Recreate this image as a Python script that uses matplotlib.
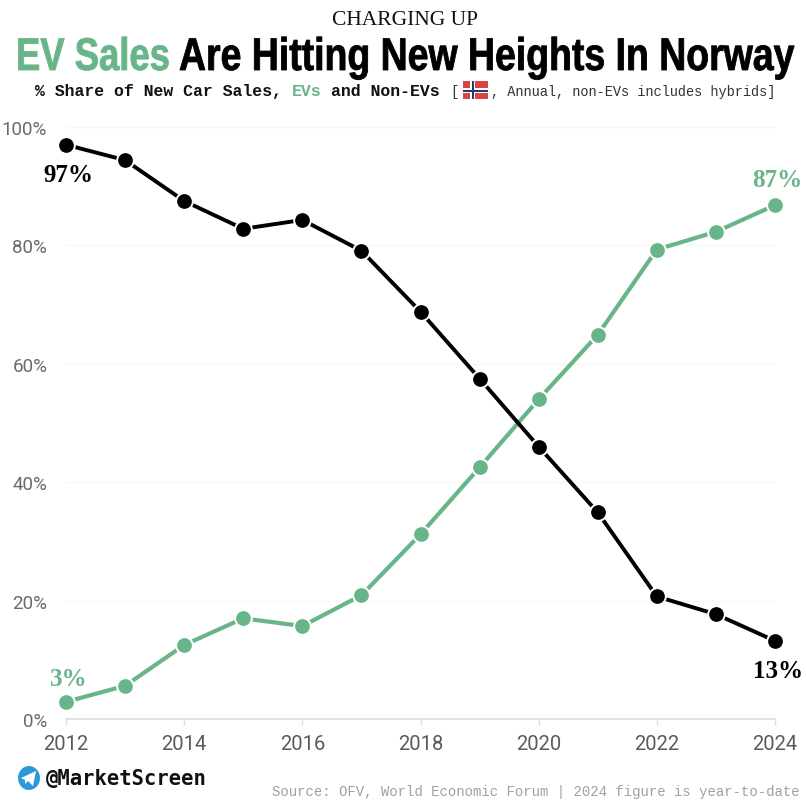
import matplotlib
matplotlib.use('Agg')
import matplotlib.pyplot as plt
import matplotlib.patches as mpatches
from matplotlib.patheffects import AbstractPathEffect
from matplotlib.text import Text
from matplotlib.transforms import Affine2D, Bbox

years = [2012, 2013, 2014, 2015, 2016, 2017, 2018, 2019, 2020, 2021, 2022, 2023, 2024]
non_evs = [97.0, 94.4, 87.5, 82.8, 84.3, 79.1, 68.8, 57.5, 46.0, 34.9, 20.7, 17.7, 13.2]
evs = [2.9, 5.6, 12.5, 17.0, 15.7, 20.9, 31.2, 42.5, 54.0, 64.9, 79.3, 82.3, 86.8]
year_ticks = [2012, 2014, 2016, 2018, 2020, 2022, 2024]
pct_ticks = [0, 20, 40, 60, 80, 100]

GREEN = '#69b58a'
W, H = 807, 804

fig = plt.figure(figsize=(W / 100, H / 100), dpi=100, facecolor='white')
ax = fig.add_axes([66 / W, (H - 720) / H, 709 / W, 592 / H])
ax.set_xlim(2012, 2024)
ax.set_ylim(0, 100)

for s in ['top', 'left', 'right']:
    ax.spines[s].set_visible(False)
ax.spines['bottom'].set_color('#dddddd')
ax.spines['bottom'].set_linewidth(1.2)
ax.grid(axis='y', color='#f7f7f7', lw=1)
ax.set_axisbelow(True)

ax.set_xticks(year_ticks)
ax.set_xticklabels([str(y) for y in year_ticks], family='Roboto', fontsize=14.5, color='#5a5a5a')
ax.set_yticks(pct_ticks)
ax.set_yticklabels(['%d%%' % p for p in pct_ticks], family='Roboto', fontsize=13.5, color='#6a6a6a')
ax.tick_params(axis='x', length=4.5, width=1, color='#dddddd', pad=6)
ax.tick_params(axis='y', length=0, pad=13.5)

ax.plot(years, evs, color=GREEN, lw=3.0, marker='o', ms=12, mfc=GREEN, mec='white', mew=1.4,
        clip_on=False, zorder=3)
ax.plot(years, non_evs, color='black', lw=2.8, marker='o', ms=12, mfc='black', mec='white', mew=1.4,
        clip_on=False, zorder=4)

# end labels
label_kw = dict(textcoords='offset pixels', ha='center', va='bottom', family='Liberation Serif',
                weight='bold', fontsize=18)
ax.annotate('97%', (years[0], non_evs[0]), xytext=(2, -41), color='black', **label_kw)
ax.annotate('3%', (years[0], evs[0]), xytext=(3, 12), color=GREEN, **label_kw)
ax.annotate('87%', (years[-1], evs[-1]), xytext=(2, 14), color=GREEN, **label_kw)
ax.annotate('13%', (years[-1], non_evs[-1]), xytext=(3, -41), color='black', **label_kw)


class Squeeze(AbstractPathEffect):
    # squash glyphs sideways around x0, there is no condensed font here
    def __init__(self, sx, x0, stroke):
        super().__init__()
        self.sx, self.x0, self.stroke = sx, x0, stroke

    def draw_path(self, renderer, gc, tpath, affine, rgbFace):
        aff = affine + Affine2D().translate(-self.x0, 0).scale(self.sx, 1).translate(self.x0, 0)
        gc0 = renderer.new_gc()
        gc0.copy_properties(gc)
        gc0.set_linewidth(self.stroke)
        gc0.set_foreground(rgbFace)
        renderer.draw_path(gc0, tpath, aff, rgbFace)
        gc0.restore()


class NarrowText(Text):
    # left aligned text squeezed to fit between two pixel columns
    def __init__(self, x0, x1, y, s, stroke=0.0, **kw):
        super().__init__(x0 / W, 1 - y / H, s, ha='left', va='baseline', transform=fig.transFigure, **kw)
        self.px0, self.px1 = x0, x1
        self.stroke = stroke

    def get_window_extent(self, renderer=None, dpi=None):
        bb = super().get_window_extent(renderer, dpi)
        return Bbox.from_extents(self.px0, bb.y0, self.px1, bb.y1)

    def draw(self, renderer):
        natural = Text.get_window_extent(self, renderer)
        self.set_path_effects([Squeeze((self.px1 - self.px0) / natural.width, self.px0, self.stroke)])
        super().draw(renderer)


fig.text(405 / W, 1 - 25 / H, 'CHARGING UP', ha='center', va='baseline', family='Liberation Serif',
         fontsize=15.5, color='#111111')

title_kw = dict(family='Liberation Sans', weight='bold', fontsize=33)
fig.add_artist(NarrowText(16, 170, 71, 'EV Sales', stroke=0.6, color=GREEN, **title_kw))
fig.add_artist(NarrowText(179, 795, 71, 'Are Hitting New Heights In Norway', stroke=0.6, color='black', **title_kw))

sub_bold = dict(family='Liberation Mono', weight='bold', fontsize=11.9)
sub_reg = dict(family='Liberation Mono', fontsize=9.8, color='#333333')
fig.text(35 / W, 1 - 96 / H, '% Share of New Car Sales,', color='#111111', **sub_bold)
fig.text(292 / W, 1 - 96 / H, 'EVs', color=GREEN, **sub_bold)
fig.text(331 / W, 1 - 96 / H, 'and Non-EVs', color='#111111', **sub_bold)
fig.text(450 / W, 1 - 96 / H, '[', **sub_reg)
fig.text(491 / W, 1 - 96 / H, ', Annual, non-EVs includes hybrids]', **sub_reg)


def px_rect(x0, y0, w, h, color):
    fig.add_artist(mpatches.Rectangle((x0 / W, 1 - (y0 + h) / H), w / W, h / H, transform=fig.transFigure,
                                      facecolor=color, edgecolor='none'))


# flag
px_rect(463, 82, 25, 18, '#d9463f')
px_rect(470, 82, 5, 18, 'white')
px_rect(463, 89, 25, 5, 'white')
px_rect(471.5, 82, 2, 18, '#223a78')
px_rect(463, 90.5, 25, 2, '#223a78')

# telegram logo
fig.add_artist(mpatches.Ellipse((29 / W, 1 - 779 / H), 22 / W, 24 / H, transform=fig.transFigure,
                                facecolor='#2a9bd8', edgecolor='none'))
plane = [(21, 779), (36, 772), (33, 787), (28, 782), (25, 785), (25, 781)]
fig.add_artist(mpatches.Polygon([(a / W, 1 - b / H) for a, b in plane], transform=fig.transFigure,
                                facecolor='white', edgecolor='none'))
fig.text(46 / W, 1 - 785 / H, '@MarketScreen', family='DejaVu Sans Mono', weight='bold', fontsize=14.8, color='#111111')

fig.text(800 / W, 1 - 796 / H, 'Source: OFV, World Economic Forum | 2024 figure is year-to-date', ha='right',
         family='Liberation Mono', fontsize=10.05, color='#a0a0a0')

fig.savefig('out.png', dpi=100)
